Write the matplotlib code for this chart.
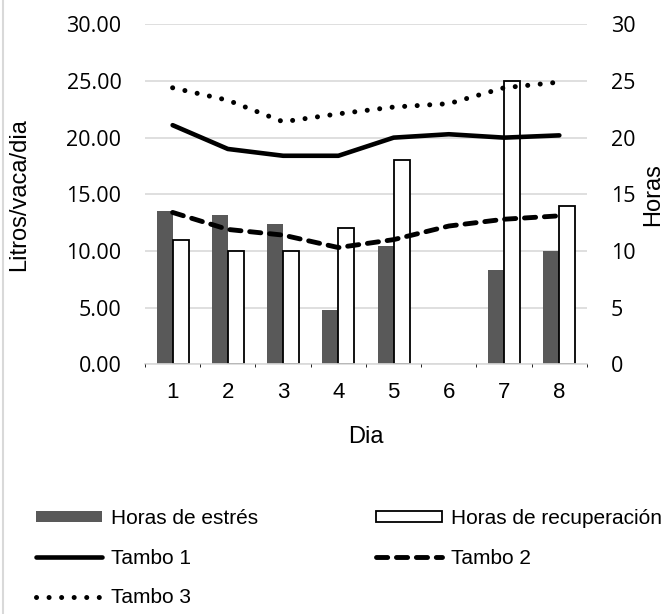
import matplotlib.pyplot as plt
from matplotlib.lines import Line2D
import numpy as np

# Datos por día (día 6 sin registro de horas)
dias = [1, 2, 3, 4, 5, 6, 7, 8]
horas_estres = [13.5, 13.2, 12.4, 4.8, 10.4, np.nan, 8.3, 10]
horas_recuperacion = [11, 10, 10, 12, 18, np.nan, 25, 14]
tambo_1 = [21.1, 19.0, 18.4, 18.4, 20.0, 20.3, 20.0, 20.2]
tambo_2 = [13.4, 11.9, 11.4, 10.3, 11.0, 12.2, 12.8, 13.1]
tambo_3 = [24.4, 23.3, 21.4, 22.1, 22.7, 23.0, 24.4, 24.9]

GRID = "#d9d9d9"
LBL = ["Liberation Sans", "DejaVu Sans"]
NUM = ["Open Sans", "DejaVu Sans"]

fig = plt.figure(figsize=(6.67, 6.14), dpi=100)
ax = fig.add_axes([0.2174, 0.4067, 0.6626, 0.5537])
ax2 = ax.twinx()

# bars on the right (Horas) axis, lines on the left axis drawn above them
ax.set_zorder(ax2.get_zorder() + 1)
ax.patch.set_visible(False)

x = np.array(dias)
w = 0.29
b1 = ax2.bar(x - w / 2, horas_estres, width=w, color="#595959", label="Horas de estrés")
b2 = ax2.bar(x + w / 2, horas_recuperacion, width=w, facecolor="white",
             edgecolor="black", linewidth=1.3, label="Horas de recuperación")

l1, = ax.plot(x, tambo_1, color="black", lw=3.3, solid_capstyle="round", label="Tambo 1")
l2, = ax.plot(x, tambo_2, color="black", lw=3.5, linestyle=(0, (2.3, 1.8)),
              dash_capstyle="round", label="Tambo 2")
l3, = ax.plot(x, tambo_3, color="black", lw=3.6, linestyle=(0, (0.01, 2.5)),
              dash_capstyle="round", label="Tambo 3")

for a in (ax, ax2):
    a.set_ylim(0, 30)
    a.set_xlim(0.5, 8.5)
    a.set_yticks(range(0, 31, 5))
    for s in a.spines.values():
        s.set_visible(False)
    a.tick_params(axis="y", length=0)

ax2.set_axisbelow(True)
ax2.grid(axis="y", color=GRID, lw=1.2)
ax2.spines["bottom"].set_visible(True)
ax2.spines["bottom"].set_color(GRID)
ax2.spines["bottom"].set_linewidth(1.2)

ax.set_yticklabels([f"{v:.2f}" for v in range(0, 31, 5)], fontfamily=NUM, fontsize=15.5)
ax.tick_params(axis="y", pad=17)
ax2.set_yticklabels([str(v) for v in range(0, 31, 5)], fontfamily=NUM, fontsize=15.5)
ax2.tick_params(axis="y", pad=17)

ax.set_xticks(dias)
ax.set_xticklabels([str(d) for d in dias], fontfamily=LBL, fontsize=16)
ax.tick_params(axis="x", length=0, pad=13)
ax2.set_xticks(np.arange(0.5, 9, 1), minor=True)
ax2.tick_params(axis="x", which="minor", length=5, color=GRID, width=1.2)
ax2.tick_params(axis="x", which="major", length=0, labelbottom=False)

ax.set_xlabel("Dia", fontfamily=LBL, fontsize=17, labelpad=16)
ax.set_ylabel("Litros/vaca/dia", fontfamily=LBL, fontsize=17)
ax.yaxis.set_label_coords(-0.26, 0.5)
ax2.set_ylabel("Horas", fontfamily=LBL, fontsize=17)
ax2.yaxis.set_label_coords(1.125, 0.5)

fig.legend(handles=[b1, l1, l3, b2, l2], ncol=2, loc="upper left",
           bbox_to_anchor=(0.041, 0.185), frameon=False,
           prop={"family": LBL, "size": 15}, handlelength=3.2, handleheight=0.45,
           handletextpad=0.4, columnspacing=5.65, labelspacing=1.0, borderaxespad=0)

# chart area border on the left edge
fig.add_artist(Line2D([0.004, 0.004], [0, 1], transform=fig.transFigure, color=GRID, lw=1.5))

fig.savefig("out.png", dpi=100)
